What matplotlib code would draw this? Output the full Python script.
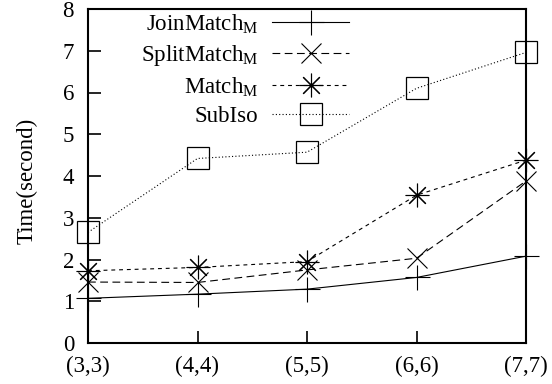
import matplotlib
matplotlib.use('Agg')
import matplotlib.pyplot as plt

plt.rcParams['font.family'] = ['Liberation Serif', 'DejaVu Serif']
plt.rcParams['mathtext.fontset'] = 'custom'
plt.rcParams['mathtext.rm'] = 'Liberation Serif'

# data
categories = ['(3,3)', '(4,4)', '(5,5)', '(6,6)', '(7,7)']
join_match = [1.07, 1.17, 1.29, 1.57, 2.08]
split_match = [1.46, 1.45, 1.75, 2.03, 3.88]
match = [1.73, 1.81, 1.95, 3.54, 4.38]
sub_iso = [2.65, 4.42, 4.57, 6.10, 6.96]
yticks = [0, 1, 2, 3, 4, 5, 6, 7, 8]

x = list(range(len(categories)))
fs = 16.5

fig = plt.figure(figsize=(5.52, 3.84), dpi=100)
ax = fig.add_axes([88 / 552, 1 - 343 / 384, (526 - 88) / 552, (343 - 9) / 384])

star = (8, 2, 0)
ax.plot(x, join_match, color='black', lw=0.8, ls='-', marker='+', ms=18,
        mew=0.8, label=r'JoinMatch$_\mathrm{M}$', clip_on=False)
ax.plot(x, split_match, color='black', lw=0.8, ls=(0, (7, 4)), marker='x', ms=15,
        mew=0.8, label=r'SplitMatch$_\mathrm{M}$', clip_on=False)
ax.plot(x, match, color='black', lw=0.8, ls=(0, (3.5, 3.5)), marker=star, ms=17,
        mew=0.8, label=r'Match$_\mathrm{M}$', clip_on=False)
ax.plot(x, sub_iso, color='black', lw=0.8, ls=(0, (1, 2)), marker='s', ms=16,
        mew=0.9, mfc='none', label='SubIso', clip_on=False)

ax.set_xlim(0, len(categories) - 1)
ax.set_ylim(0, 8)
ax.set_xticks(x)
ax.set_xticklabels(categories)
ax.set_yticks(yticks)
ax.tick_params(direction='in', length=9, width=1.2, labelsize=fs,
               top=False, right=False)
ax.tick_params(axis='x', pad=9)
ax.tick_params(axis='y', pad=10)
for s in ax.spines.values():
    s.set_linewidth(1.5)

ax.set_ylabel('Time(second)', fontsize=fs)
ax.yaxis.set_label_coords(-0.114, 0.485)

leg = ax.legend(loc='upper right', bbox_to_anchor=((349 - 88) / 438, 0.99),
                frameon=False, fontsize=fs, markerfirst=False,
                handlelength=3.36, handletextpad=0.6, labelspacing=0.3,
                borderpad=0, borderaxespad=0)
for t in leg.get_texts():
    t.set_ha('right')
leg._legend_box.align = 'right'

fig.savefig('out.png', dpi=100)
